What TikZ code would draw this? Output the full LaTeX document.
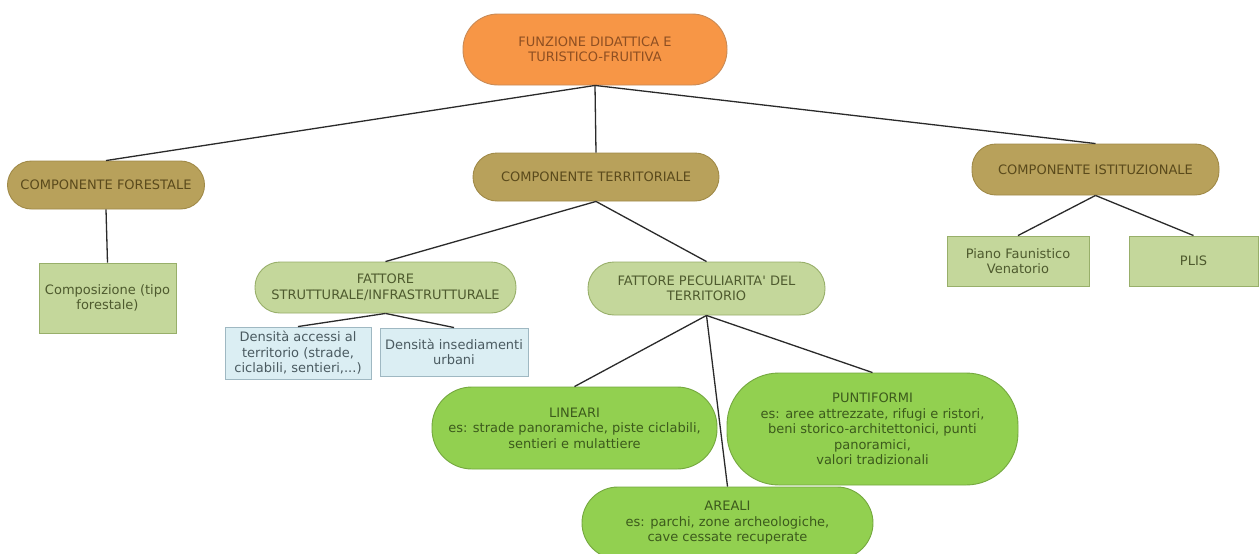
\documentclass[tikz,border=0pt]{standalone}
\usepackage{fontspec}
\setmainfont{DejaVu Sans}
\usetikzlibrary{calc}

\definecolor{orangefill}{HTML}{F79646}
\definecolor{orangeline}{HTML}{C98A55}
\definecolor{orangetext}{HTML}{8E4F22}
\definecolor{olivefill}{HTML}{B8A15B}
\definecolor{oliveline}{HTML}{A08A48}
\definecolor{olivetext}{HTML}{5A4A1C}
\definecolor{palefill}{HTML}{C4D79B}
\definecolor{paleline}{HTML}{98AF6A}
\definecolor{paletext}{HTML}{4E5A2E}
\definecolor{bluefill}{HTML}{DBEEF3}
\definecolor{blueline}{HTML}{9FB8C2}
\definecolor{bluetext}{HTML}{4A5A60}
\definecolor{greenfill}{HTML}{92D050}
\definecolor{greenline}{HTML}{74A83E}
\definecolor{greentext}{HTML}{3C5A1C}
\definecolor{linkcol}{HTML}{2A2A2A}

\tikzset{
  box/.style={draw, line width=0.9pt, align=center, inner sep=0pt,
    font=\fontsize{13}{15.5}\selectfont},
  rootbox/.style={box, fill=orangefill, draw=orangeline, text=orangetext,
    rounded corners=35pt},
  compbox/.style={box, fill=olivefill, draw=oliveline, text=olivetext,
    rounded corners=24pt},
  factbox/.style={box, fill=palefill, draw=paleline, text=paletext,
    rounded corners=25pt},
  leafbox/.style={box, fill=palefill, draw=paleline, text=paletext},
  bluebox/.style={box, fill=bluefill, draw=blueline, text=bluetext},
  typebox/.style={box, fill=greenfill, draw=greenline, text=greentext},
  link/.style={draw=linkcol, line width=1.3pt}
}

\begin{document}
\begin{tikzpicture}[x=1pt, y=-1pt]
\useasboundingbox[fill=white] (0,0) rectangle (1259,554);

% root
\node[rootbox, minimum width=264pt, minimum height=71pt] (root) at (595,49.5)
  {FUNZIONE DIDATTICA E\\TURISTICO-FRUITIVA};

% three components
\node[compbox, minimum width=197pt, minimum height=48pt] (forest) at (106,185)
  {COMPONENTE FORESTALE};
\node[compbox, minimum width=246pt, minimum height=48pt] (terr) at (596,177)
  {COMPONENTE TERRITORIALE};
\node[compbox, minimum width=247pt, minimum height=51pt] (ist) at (1095.5,169.5)
  {COMPONENTE ISTITUZIONALE};

% forest branch
\node[leafbox, minimum width=137pt, minimum height=70pt] (comp) at (107.5,298)
  {Composizione (tipo\\forestale)};

% institutional branch
\node[leafbox, minimum width=142pt, minimum height=50pt] (piano) at (1018,261)
  {Piano Faunistico\\Venatorio};
\node[leafbox, minimum width=129pt, minimum height=50pt] (plis) at (1193.5,261)
  {PLIS};

% territorial branch
\node[factbox, minimum width=261pt, minimum height=51pt] (strut) at (385.5,287.5)
  {FATTORE\\STRUTTURALE/INFRASTRUTTURALE};
\node[factbox, minimum width=237pt, minimum height=53pt, rounded corners=26pt] (pecul) at (706.5,288.5)
  {FATTORE PECULIARITA\textquotesingle{} DEL\\TERRITORIO};

\node[bluebox, minimum width=146pt, minimum height=52pt] (acc) at (298,353)
  {Densità accessi al\\territorio (strade,\\ciclabili, sentieri,...)};
\node[bluebox, minimum width=148pt, minimum height=48pt] (ins) at (454,352)
  {Densità insediamenti\\urbani};

\node[typebox, minimum width=285pt, minimum height=82pt, rounded corners=40pt] (lin) at (574.5,428)
  {LINEARI\\es: strade panoramiche, piste ciclabili,\\sentieri e mulattiere};
\node[typebox, minimum width=291pt, minimum height=112pt, rounded corners=52pt] (punt) at (872.5,429)
  {PUNTIFORMI\\es: aree attrezzate, rifugi e ristori,\\beni storico-architettonici, punti\\panoramici,\\valori tradizionali};
\node[typebox, minimum width=291pt, minimum height=72pt, rounded corners=36pt] (areal) at (727.5,523)
  {AREALI\\es: parchi, zone archeologiche,\\cave cessate recuperate};

% connectors
\draw[link] (root.south) -- (forest.north);
\draw[link] (root.south) -- (terr.north);
\draw[link] (root.south) -- (ist.north);
\draw[link] (forest.south) -- (comp.north);
\draw[link] (ist.south) -- (piano.north);
\draw[link] (ist.south) -- (plis.north);
\draw[link] (terr.south) -- (strut.north);
\draw[link] (terr.south) -- (pecul.north);
\draw[link] (strut.south) -- (acc.north);
\draw[link] (strut.south) -- (ins.north);
\draw[link] (pecul.south) -- (lin.north);
\draw[link] (pecul.south) -- (areal.north);
\draw[link] (pecul.south) -- (punt.north);
\end{tikzpicture}
\end{document}
